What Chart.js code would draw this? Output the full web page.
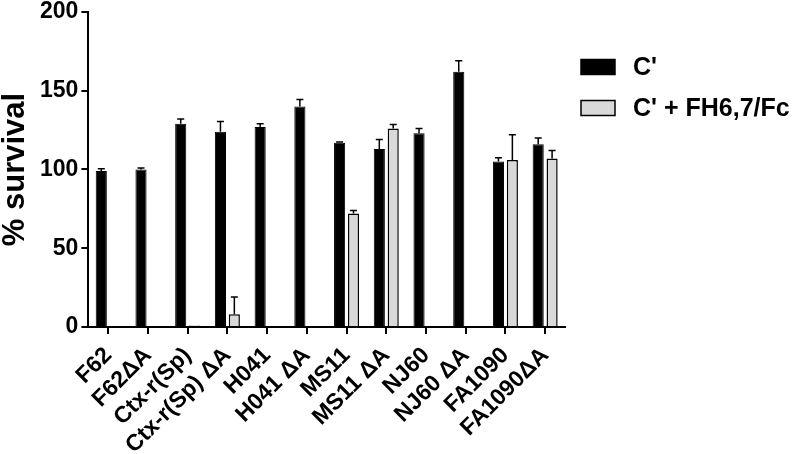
<!DOCTYPE html>
<html>
<head>
<meta charset="utf-8">
<script src="https://cdn.jsdelivr.net/npm/chart.js@4"></script>
<style>
    html, body { margin: 0; padding: 0; background: #fff; overflow: hidden; }
    canvas { display: block; }
</style>
</head>
<body>
<canvas id="survivalChart" width="800" height="454"></canvas>
<script>
const strains = ['F62', 'F62ΔA', 'Ctx-r(Sp)', 'Ctx-r(Sp) ΔA', 'H041', 'H041 ΔA', 'MS11', 'MS11 ΔA', 'NJ60', 'NJ60 ΔA', 'FA1090', 'FA1090ΔA'];
const seriesNames = ["C'", "C' + FH6,7/Fc"];
const cOnly = [99, 100, 129, 124, 127, 140, 117, 113, 123, 162, 105, 116];
const cOnlyErr = [1.5, 1, 3, 6.5, 2, 4.5, 0.5, 6, 3, 7, 2.5, 4];
const cFH = [null, null, 1, 8, null, null, 72, 126, null, null, 106, 107];
const cFHErr = [null, null, 0, 11, null, null, 2, 2.5, null, null, 16, 5];
const yTicks = [0, 50, 100, 150, 200];

const FONT = '"Liberation Sans", Arial, sans-serif';

// upper error bars with a small cap
const errorBars = {
    id: 'errorBars',
    afterDatasetsDraw(chart) {
        const ctx = chart.ctx;
        const yScale = chart.scales.y;
        chart.data.datasets.forEach((ds, di) => {
            const meta = chart.getDatasetMeta(di);
            ds.errors.forEach((e, i) => {
                const v = ds.data[i];
                if (v == null || !e) return;
                const bar = meta.data[i];
                const top = yScale.getPixelForValue(v + e);
                ctx.save();
                ctx.strokeStyle = '#000';
                ctx.lineWidth = 1.5;
                ctx.beginPath();
                ctx.moveTo(bar.x, bar.y);
                ctx.lineTo(bar.x, top);
                ctx.moveTo(bar.x - 3.5, top);
                ctx.lineTo(bar.x + 3.5, top);
                ctx.stroke();
                ctx.restore();
            });
        });
    }
};

// legend on the right, drawn by hand
const sideLegend = {
    id: 'sideLegend',
    afterDraw(chart) {
        const ctx = chart.ctx;
        const x0 = chart.chartArea.right + 16;
        chart.data.datasets.forEach((ds, i) => {
            const yc = 67 + i * 41;
            ctx.save();
            ctx.fillStyle = ds.backgroundColor;
            ctx.fillRect(x0, yc - 7.5, 34, 15);
            ctx.strokeStyle = '#000';
            ctx.lineWidth = 1.5;
            ctx.strokeRect(x0, yc - 7.5, 34, 15);
            ctx.fillStyle = '#000';
            ctx.font = 'bold 25px ' + FONT;
            ctx.textBaseline = 'middle';
            ctx.fillText(ds.label, x0 + 52, yc + 1);
            ctx.restore();
        });
    }
};

const ctx = document.getElementById('survivalChart').getContext('2d');
const survivalChart = new Chart(ctx, {
    type: 'bar',
    data: {
        labels: strains,
        datasets: [
            {
                label: seriesNames[0],
                data: cOnly,
                errors: cOnlyErr,
                backgroundColor: '#000000',
                borderColor: '#000000',
                borderWidth: 1,
                categoryPercentage: 0.7,
                barPercentage: 0.8
            },
            {
                label: seriesNames[1],
                data: cFH,
                errors: cFHErr,
                backgroundColor: '#d9d9d9',
                borderColor: '#000000',
                borderWidth: 1.5,
                categoryPercentage: 0.7,
                barPercentage: 0.8
            }
        ]
    },
    options: {
        responsive: false,
        animation: false,
        layout: {
            padding: { top: 0, right: 235, bottom: 0, left: 0 }
        },
        plugins: {
            legend: { display: false },
            tooltip: { enabled: false }
        },
        scales: {
            x: {
                afterFit(scale) {
                    // rotated labels reserve more room than they use
                    scale.height -= 13;
                },
                grid: {
                    display: true,
                    drawOnChartArea: false,
                    offset: false,
                    tickLength: 7,
                    color: '#000',
                    lineWidth: 2
                },
                border: { color: '#000', width: 2 },
                ticks: {
                    color: '#000',
                    font: { family: FONT, size: 23, weight: 'bold' },
                    maxRotation: 45,
                    minRotation: 45,
                    autoSkip: false,
                    padding: 8
                }
            },
            y: {
                min: 0,
                max: 200,
                afterBuildTicks(scale) {
                    scale.ticks = yTicks.map(v => ({ value: v }));
                },
                afterFit(scale) {
                    scale.paddingTop = 12;
                },
                grid: {
                    display: true,
                    drawOnChartArea: false,
                    tickLength: 7,
                    color: '#000',
                    lineWidth: 2
                },
                border: { color: '#000', width: 2 },
                ticks: {
                    color: '#000',
                    font: { family: FONT, size: 23, weight: 'bold' },
                    padding: 3
                },
                title: {
                    display: true,
                    text: '% survival',
                    color: '#000',
                    font: { family: FONT, size: 31, weight: 'bold', lineHeight: 1 },
                    padding: { top: 0, bottom: 6 }
                }
            }
        }
    },
    plugins: [errorBars, sideLegend]
});
</script>
</body>
</html>
